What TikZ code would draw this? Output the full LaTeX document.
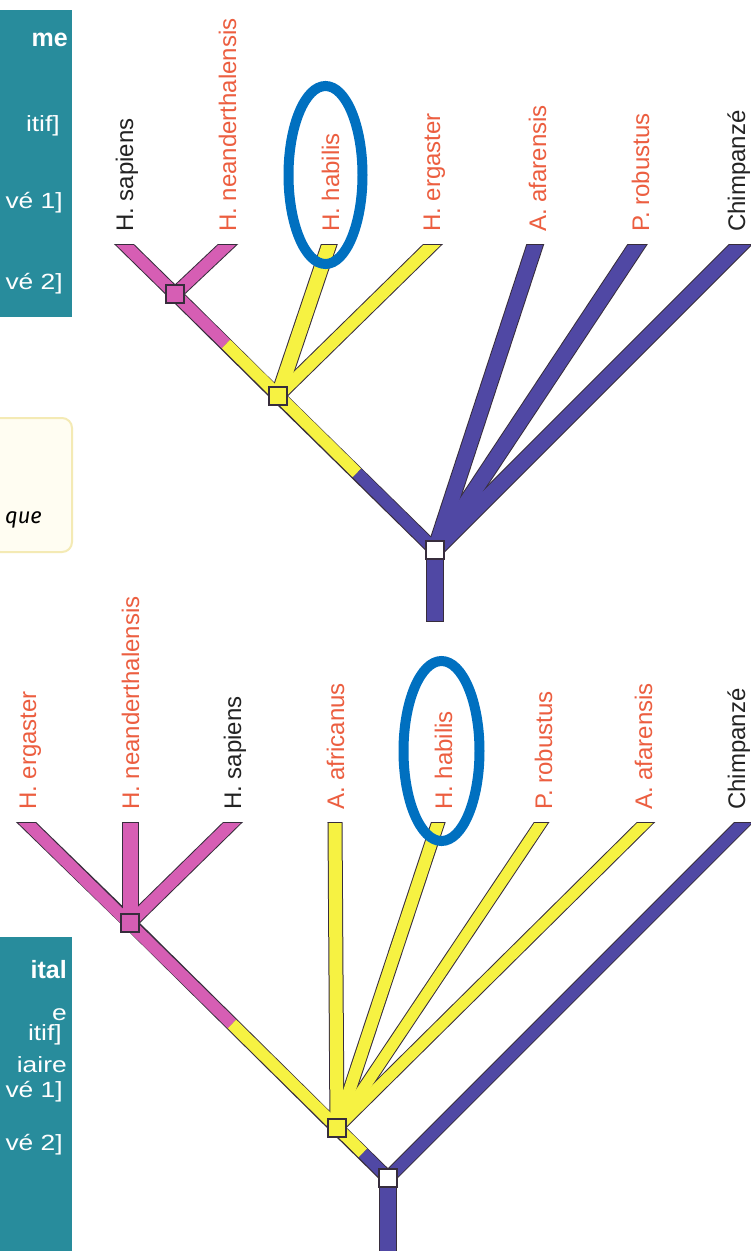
\documentclass[tikz,border=0pt]{standalone}
\usepackage{fontspec}
\setmainfont{Liberation Sans}
\newfontfamily\firafont{Fira Sans}
\definecolor{pinkc}{RGB}{214,94,180}
\definecolor{yelc}{RGB}{246,242,66}
\definecolor{purc}{RGB}{80,72,164}
\definecolor{outc}{RGB}{55,45,60}
\definecolor{labred}{RGB}{236,94,64}
\definecolor{labblk}{RGB}{35,35,35}
\definecolor{ovalc}{RGB}{0,112,192}
\definecolor{tealc}{RGB}{40,140,156}
\definecolor{creamc}{RGB}{255,253,242}
\definecolor{creamb}{RGB}{244,234,180}
\begin{document}
\begin{tikzpicture}[x=1pt,y=-1pt,
  lab/.style={rotate=90, anchor=base west, inner sep=0pt, font=\fontsize{24}{28}\selectfont},
  ol/.style={draw=outc, line width=#1},
  br/.style={line width=#1},
  ext/.style={shorten >=-16pt},
  sq/.style={draw=outc, line width=1.3pt, minimum size=18pt, inner sep=0pt, rectangle},
  boxtxt/.style={text=white, anchor=base east, inner sep=0pt, font=\fontsize{22}{26}\selectfont, xscale=1.2},
  boxhead/.style={text=white, anchor=base east, inner sep=0pt, font=\fontsize{25}{29}\selectfont\bfseries},
  oval/.style={draw=ovalc, line width=10pt},
]
\useasboundingbox (0,0) rectangle (751,1251);
\fill[white] (0,0) rectangle (751,1251);

% ---- left boxes
\fill[tealc] (-5,10) rectangle (72,317);
\node[boxhead] (h1) at (68,46) {me};
\node[boxtxt] (a1) at (60,131) {itif]};
\node[boxtxt] (b1) at (63,208) {vé 1]};
\node[boxtxt] (c1) at (63,289) {vé 2]};

\draw[fill=creamc, draw=creamb, line width=2pt, rounded corners=10pt] (-10,418) rectangle (72,552);
\node[anchor=base east, inner sep=0pt, font=\firafont\itshape\fontsize{22}{26}\selectfont] (q1) at (42,523) {que};

\fill[tealc] (-5,937) rectangle (72,1260);
\node[boxhead] (h2) at (67,978) {ital};
\node[boxtxt] (e2) at (67,1020) {e};
\node[boxtxt] (a2) at (62,1040) {itif]};
\node[boxtxt] (i2) at (67,1072) {iaire};
\node[boxtxt] (b2) at (63,1097) {vé 1]};
\node[boxtxt] (c2) at (63,1150) {vé 2]};

% ---- top tree coordinates
\coordinate (tSap) at (125,245);
\coordinate (tNea) at (227,245);
\coordinate (tHab) at (329,245);
\coordinate (tErg) at (432,245);
\coordinate (tAfa) at (535,245);
\coordinate (tRob) at (637,245);
\coordinate (tChi) at (740,245);
\coordinate (nP) at (175,294);
\coordinate (nY) at (278,396);
\coordinate (nW) at (435,550);
\coordinate (cPY) at (226,344);
\coordinate (cYP) at (357,473);
\coordinate (sT) at (435,622);

\begin{scope}
\clip (0,244) rectangle (751,623);
\draw[ol=14pt, ext] (nW) -- (nY) -- (nP) -- (tSap);
\draw[ol=14pt, ext] (nP) -- (tNea);
\draw[ol=16pt, ext] (nY) -- (tHab);
\draw[ol=14pt, ext] (nY) -- (tErg);
\draw[ol=17pt, ext] (nW) -- (tAfa);
\draw[ol=17pt, ext] (nW) -- (tRob);
\draw[ol=17pt, ext] (nW) -- (tChi);
\draw[ol=18pt] (nW) -- (sT);
\end{scope}
\begin{scope}
\clip (0,245.5) rectangle (751,623);
\draw[pinkc, br=12pt, ext] (cPY) -- (tSap);
\draw[yelc, br=12pt] (cYP) -- (cPY);
\draw[purc, br=12pt] (nW) -- (cYP);
\draw[pinkc, br=12pt, ext] (nP) -- (tNea);
\draw[yelc, br=14pt, ext] (nY) -- (tHab);
\draw[yelc, br=12pt, ext] (nY) -- (tErg);
\draw[purc, br=15pt, ext] (nW) -- (tAfa);
\draw[purc, br=15pt, ext] (nW) -- (tRob);
\draw[purc, br=15pt, ext] (nW) -- (tChi);
\draw[purc, br=16pt, shorten >=1pt] (nW) -- (sT);
\end{scope}
\node[sq, fill=pinkc] (sqP) at (nP) {};
\node[sq, fill=yelc] (sqY) at (nY) {};
\node[sq, fill=white] (sqW) at (nW) {};

\node[lab, text=labblk] (lSap) at (133,232) {H. sapiens};
\node[lab, text=labred] (lNea) at (236,232) {H. neanderthalensis};
\node[lab, text=labred] (lHab) at (339,232) {H. habilis};
\node[lab, text=labred] (lErg) at (440,232) {H. ergaster};
\node[lab, text=labred] (lAfa) at (546,232) {A. afarensis};
\node[lab, text=labred] (lRob) at (649,232) {P. robustus};
\node[lab, text=labblk] (lChi) at (745,232) {Chimpanzé};

% ---- bottom tree coordinates
\coordinate (tErg2) at (27,823);
\coordinate (tNea2) at (130,823);
\coordinate (tSap2) at (232,823);
\coordinate (tAfr) at (335,823);
\coordinate (tHab2) at (438,823);
\coordinate (tRob2) at (541,823);
\coordinate (tAfa2) at (645,823);
\coordinate (tChi2) at (743,823);
\coordinate (nP2) at (130,923);
\coordinate (nY2) at (337,1128);
\coordinate (nW2) at (388,1178);
\coordinate (cPY2) at (232,1024);
\coordinate (cYP2) at (363,1153);
\coordinate (sB) at (388,1265);

\begin{scope}
\clip (0,822) rectangle (751,1260);
\draw[ol=14pt, ext] (nW2) -- (nY2) -- (nP2) -- (tErg2);
\draw[ol=17pt, ext] (nP2) -- (tNea2);
\draw[ol=14pt, ext] (nP2) -- (tSap2);
\draw[ol=15pt, ext] (nY2) -- (tAfr);
\draw[ol=14pt, ext] (nY2) -- (tHab2);
\draw[ol=13pt, ext] (nY2) -- (tRob2);
\draw[ol=13pt, ext] (nY2) -- (tAfa2);
\draw[ol=14pt, ext] (nW2) -- (tChi2);
\draw[ol=18pt] (nW2) -- (sB);
\end{scope}
\begin{scope}
\clip (0,823.5) rectangle (751,1260);
\draw[pinkc, br=12pt, ext] (cPY2) -- (tErg2);
\draw[yelc, br=12pt] (cYP2) -- (cPY2);
\draw[purc, br=12pt] (nW2) -- (cYP2);
\draw[pinkc, br=15pt, ext] (nP2) -- (tNea2);
\draw[pinkc, br=12pt, ext] (nP2) -- (tSap2);
\draw[yelc, br=13pt, ext] (nY2) -- (tAfr);
\draw[yelc, br=12pt, ext] (nY2) -- (tHab2);
\draw[yelc, br=11pt, ext] (nY2) -- (tRob2);
\draw[yelc, br=11pt, ext] (nY2) -- (tAfa2);
\draw[purc, br=12pt, ext] (nW2) -- (tChi2);
\draw[purc, br=16pt] (nW2) -- (sB);
\end{scope}
\node[sq, fill=pinkc] (sqP2) at (nP2) {};
\node[sq, fill=yelc] (sqY2) at (nY2) {};
\node[sq, fill=white] (sqW2) at (nW2) {};

\node[lab, text=labred] (lErg2) at (36,810) {H. ergaster};
\node[lab, text=labred] (lNea2) at (139,810) {H. neanderthalensis};
\node[lab, text=labblk] (lSap2) at (241,810) {H. sapiens};
\node[lab, text=labred] (lAfr) at (344,810) {A. africanus};
\node[lab, text=labred] (lHab2) at (452,810) {H. habilis};
\node[lab, text=labred] (lRob2) at (552,810) {P. robustus};
\node[lab, text=labred] (lAfa2) at (652,810) {A. afarensis};
\node[lab, text=labblk] (lChi2) at (745,810) {Chimpanzé};

% ---- highlight ovals
\draw[oval] (325.5,175) ellipse [x radius=37pt, y radius=89pt];
\draw[oval] (441.5,751) ellipse [x radius=38pt, y radius=90pt];
\end{tikzpicture}
\end{document}
